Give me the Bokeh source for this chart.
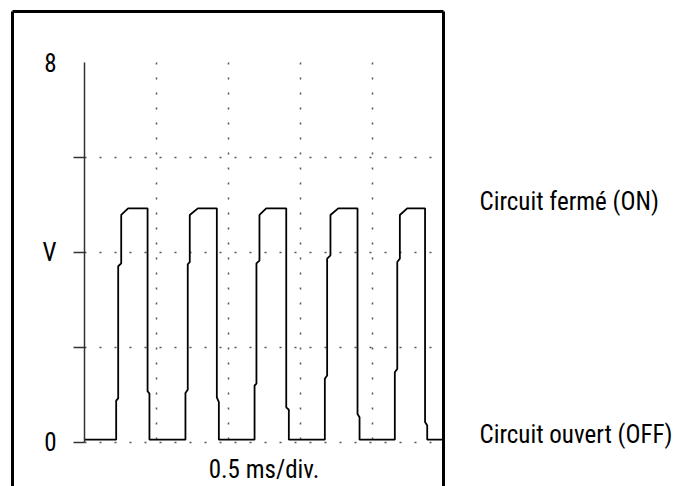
from bokeh.plotting import figure
from bokeh.models import Range1d, FixedTicker, LinearAxis
from bokeh.embed import file_html
from bokeh.resources import INLINE

# ---- data ----
time_ms = [0.000, 0.220, 0.220, 0.234, 0.234, 0.255, 0.255, 0.303, 0.438, 0.438, 0.451, 0.451,
           0.701, 0.701, 0.717, 0.717, 0.731, 0.731, 0.787, 0.919, 0.919, 0.933, 0.933,
           1.181, 1.181, 1.194, 1.194, 1.215, 1.215, 1.262, 1.401, 1.401, 1.419, 1.419,
           1.669, 1.669, 1.685, 1.685, 1.708, 1.708, 1.762, 1.896, 1.896, 1.910, 1.910,
           2.155, 2.155, 2.172, 2.172, 2.190, 2.190, 2.241, 2.365, 2.365, 2.380, 2.380, 2.500]
volts = [0.06, 0.06, 0.88, 0.93, 3.71, 3.77, 4.79, 4.93, 4.93, 1.08, 1.03, 0.06,
         0.06, 1.04, 1.11, 3.75, 3.80, 4.79, 4.93, 4.93, 0.95, 0.85, 0.06,
         0.06, 1.20, 1.24, 3.77, 3.83, 4.79, 4.93, 4.93, 0.74, 0.69, 0.06,
         0.06, 1.34, 1.41, 3.87, 3.94, 4.79, 4.93, 4.93, 0.60, 0.53, 0.06,
         0.06, 1.48, 1.55, 3.80, 3.87, 4.79, 4.93, 4.93, 0.43, 0.36, 0.06, 0.06]

y_ticks = [0, 2, 4, 6]
y_tick_labels = {0: "0", 2: "", 4: "V", 6: ""}
y_top = 8
y_top_label = "8"
x_grid_ticks = [0.5, 1.0, 1.5, 2.0]
x_end = 2.5
x_caption = "0.5 ms/div."
on_text = "Circuit fermé (ON)"
off_text = "Circuit ouvert (OFF)"

# ---- layout / style (pixels) ----
FONT = ("Liberation Sans Narrow, Arial Narrow, Roboto Condensed, "
        "Noto Sans Condensed, DejaVu Sans Condensed, Liberation Sans")
FS = "25px"
FS_SIDE = "25px"
W, H = 682, 486
BOX_L, BOX_T, BOX_R = 12, 11, 443          # enclosing box edges (= plot frame)
X0_PX, Y0_PX = 84, 442                      # where t=0, V=0 fall
PX_PER_MS = 144.0
PX_PER_V = 47.5
ON_TEXT_PY, OFF_TEXT_PY = 201, 434          # vertical centres of the side texts
SIDE_TEXT_GAP = 36                          # gap from the box to the side texts


def v_at(py):
    return round((Y0_PX - py) / PX_PER_V, 4)


x_range = Range1d((BOX_L - X0_PX) / PX_PER_MS, (BOX_R - X0_PX) / PX_PER_MS)
y_range = Range1d(v_at(H), v_at(BOX_T))

p = figure(width=W, height=H, x_range=x_range, y_range=y_range,
           output_backend="svg", toolbar_location=None,
           x_axis_location=None, y_axis_location=None,
           min_border_left=BOX_L, min_border_right=W - BOX_R,
           min_border_top=BOX_T, min_border_bottom=0)
p.background_fill_color = "white"
p.border_fill_color = "white"
p.outline_line_color = None
p.grid.visible = False


def bare_axis(**kw):
    opts = dict(ticker=FixedTicker(ticks=[]), major_tick_out=0, major_tick_in=0,
                minor_tick_out=0, minor_tick_in=0, major_label_standoff=0,
                minor_tick_line_color=None)
    opts.update(kw)
    return LinearAxis(**opts)


# enclosing box: thick axis rules on the frame edges
for side in ("left", "above"):
    p.add_layout(bare_axis(axis_line_color="black", axis_line_width=3), side)

# right edge of the box also carries the two state names
on_v, off_v = v_at(ON_TEXT_PY), v_at(OFF_TEXT_PY)
right = bare_axis(axis_line_color="black", axis_line_width=3,
                  ticker=FixedTicker(ticks=[on_v, off_v]),
                  major_label_overrides={on_v: on_text, off_v: off_text},
                  major_tick_line_color=None, major_label_standoff=SIDE_TEXT_GAP,
                  major_label_text_font=FONT, major_label_text_font_size=FS_SIDE,
                  major_label_text_color="black")
p.add_layout(right, "right")

# dotted graticule
grid_style = dict(line_color="#555555", line_width=1.5, line_dash="2 13")
p.segment(x0=[0] * len(y_ticks), y0=y_ticks, x1=[x_end] * len(y_ticks), y1=y_ticks, **grid_style)
p.segment(x0=x_grid_ticks, y0=[y_top] * len(x_grid_ticks), x1=x_grid_ticks,
          y1=[0] * len(x_grid_ticks), **grid_style)

# y axis drawn at t = 0
label_style = dict(major_label_text_font=FONT, major_label_text_font_size=FS,
                   major_label_text_color="black")
ya = LinearAxis(fixed_location=0, bounds=(0, y_top), ticker=FixedTicker(ticks=y_ticks),
                major_label_overrides=y_tick_labels,
                axis_line_color="#333333", axis_line_width=1.5,
                major_tick_line_color="#333333", major_tick_line_width=1.5,
                major_tick_out=11, major_tick_in=0, minor_tick_line_color=None,
                minor_tick_out=0, major_label_standoff=17, **label_style)
p.add_layout(ya, "left")
ya_top = LinearAxis(fixed_location=0, bounds=(0, y_top), ticker=FixedTicker(ticks=[y_top]),
                    major_label_overrides={y_top: y_top_label},
                    axis_line_color=None, major_tick_line_color=None,
                    major_tick_out=11, major_tick_in=0, minor_tick_line_color=None,
                    minor_tick_out=0, major_label_standoff=17, **label_style)
p.add_layout(ya_top, "left")

# x caption below the trace
xa = bare_axis(fixed_location=0, bounds=(0, x_end), axis_line_color=None,
               axis_label=x_caption, axis_label_standoff=12,
               axis_label_text_font=FONT, axis_label_text_font_size=FS,
               axis_label_text_font_style="normal", axis_label_text_color="black")
p.add_layout(xa, "below")

# waveform
p.line(time_ms, volts, line_color="black", line_width=1.8)

open("out.html", "w").write(file_html(p, INLINE))
